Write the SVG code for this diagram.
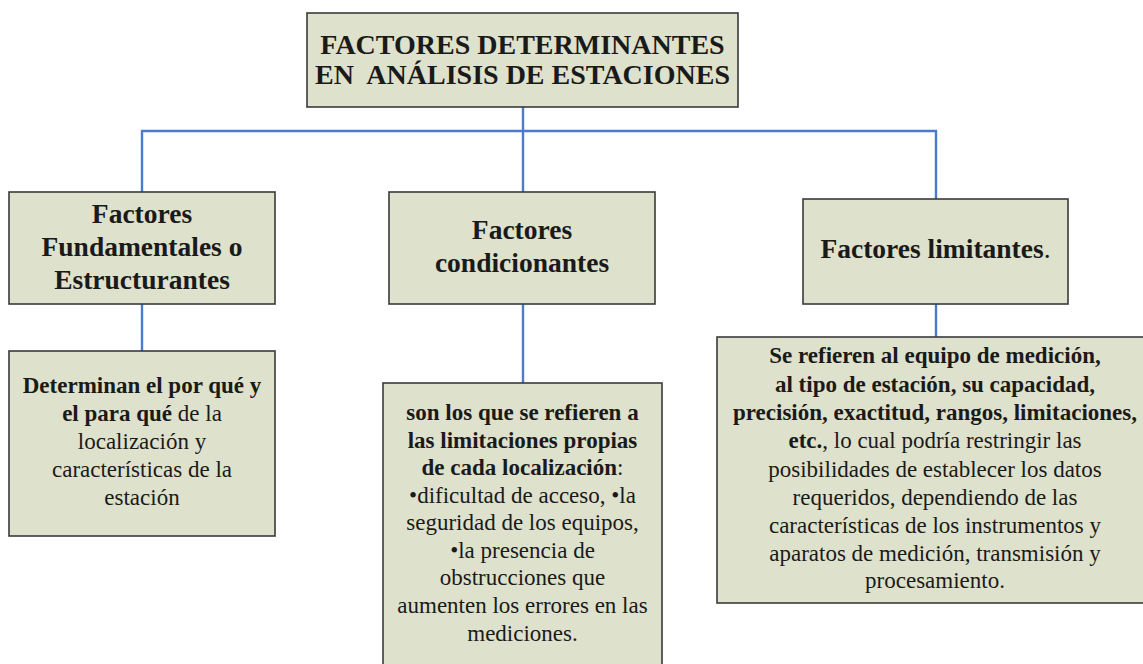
<svg xmlns="http://www.w3.org/2000/svg" width="1143" height="664" viewBox="0 0 1143 664">
<style>
.box{fill:#DEE1CB;stroke:#3A3A3A;stroke-width:1.6}
.con{fill:none;stroke:#4A7CCB;stroke-width:2.4}
text{font-family:"Liberation Serif","Times New Roman",serif;fill:#1A1A1A;text-anchor:middle}
.t{font-size:28px;font-weight:bold}
.h{font-size:27.5px;font-weight:bold}
.b{font-size:23px}
.bb{font-weight:bold}
.r{font-weight:normal}
</style>
<rect width="1143" height="664" fill="#FFFFFF"/>
<g id="connectors">
<path class="con" d="M523 107V131M142 192V131H936V199M523 131V192M142 304V351M523 304V383M936 304V337"/>
</g>
<g id="root">
<rect class="box" x="307" y="13" width="431" height="94"/>
<text class="t" x="522.5" y="54">FACTORES DETERMINANTES</text>
<text class="t" x="522.5" y="84" xml:space="preserve">EN  ANÁLISIS DE ESTACIONES</text>
</g>
<g id="fundamentales">
<rect class="box" x="9" y="192" width="266" height="112"/>
<text class="h" x="142" y="223">Factores</text>
<text class="h" x="142" y="256">Fundamentales o</text>
<text class="h" x="142" y="289">Estructurantes</text>
</g>
<g id="condicionantes">
<rect class="box" x="389" y="192" width="266" height="112"/>
<text class="h" x="522" y="239">Factores</text>
<text class="h" x="522" y="272">condicionantes</text>
</g>
<g id="limitantes">
<rect class="box" x="803" y="199" width="265" height="105"/>
<text class="h" x="935.5" y="258">Factores limitantes<tspan class="r">.</tspan></text>
</g>
<g id="fundamentales-desc">
<rect class="box" x="9" y="351" width="266" height="185"/>
<text class="b" x="142" y="393"><tspan class="bb">Determinan el por qué y</tspan></text>
<text class="b" x="142" y="421"><tspan class="bb">el para qué</tspan> de la</text>
<text class="b" x="142" y="449">localización y</text>
<text class="b" x="142" y="477">características de la</text>
<text class="b" x="142" y="505">estación</text>
</g>
<g id="condicionantes-desc">
<rect class="box" x="383" y="383" width="279" height="300"/>
<text class="b" x="522.5" y="420"><tspan class="bb">son los que se refieren a</tspan></text>
<text class="b" x="522.5" y="448"><tspan class="bb">las limitaciones propias</tspan></text>
<text class="b" x="522.5" y="475"><tspan class="bb">de cada localización</tspan>:</text>
<text class="b" x="522.5" y="503">•dificultad de acceso, •la</text>
<text class="b" x="522.5" y="530">seguridad de los equipos,</text>
<text class="b" x="522.5" y="558">•la presencia de</text>
<text class="b" x="522.5" y="585">obstrucciones que</text>
<text class="b" x="522.5" y="613">aumenten los errores en las</text>
<text class="b" x="522.5" y="641">mediciones.</text>
</g>
<g id="limitantes-desc">
<rect class="box" x="717" y="337" width="440" height="266"/>
<text class="b" x="935" y="363"><tspan class="bb">Se refieren al equipo de medición,</tspan></text>
<text class="b" x="935" y="392"><tspan class="bb">al tipo de estación, su capacidad,</tspan></text>
<text class="b" x="935" y="420"><tspan class="bb">precisión, exactitud, rangos, limitaciones,</tspan></text>
<text class="b" x="935" y="448"><tspan class="bb">etc.</tspan>, lo cual podría restringir las</text>
<text class="b" x="935" y="477">posibilidades de establecer los datos</text>
<text class="b" x="935" y="505">requeridos, dependiendo de las</text>
<text class="b" x="935" y="533">características de los instrumentos y</text>
<text class="b" x="935" y="561">aparatos de medición, transmisión y</text>
<text class="b" x="935" y="588">procesamiento.</text>
</g>
</svg>
